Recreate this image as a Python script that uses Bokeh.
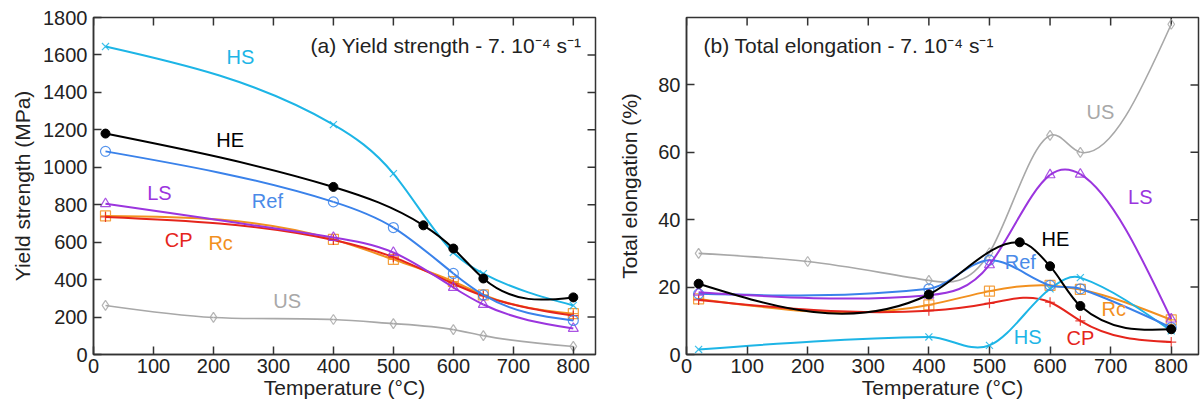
import numpy as np
from bokeh.plotting import figure
from bokeh.layouts import row
from bokeh.models import FixedTicker, Range1d
from bokeh.embed import file_html
from bokeh.resources import INLINE
from bokeh.core.properties import value

# ---------------- data: (a) yield strength (MPa) ----------------
ys_T6 = [20, 400, 500, 600, 650, 800]
ys_HE_T = [20, 400, 550, 600, 650, 800]
ys_US_T = [20, 200, 400, 500, 600, 650, 800]
ys_HS = [1645, 1228, 966, 545, 432, 262]
ys_HE = [1180, 895, 690, 566, 406, 305]
ys_Ref = [1085, 815, 678, 433, 318, 182]
ys_LS = [805, 625, 545, 358, 267, 139]
ys_CP = [735, 612, 520, 378, 313, 208]
ys_Rc = [740, 615, 508, 390, 318, 218]
ys_US = [262, 198, 187, 165, 133, 101, 43]

# ---------------- data: (b) total elongation (%) ----------------
el_T6 = [20, 400, 500, 600, 650, 800]
el_HE_T = [20, 400, 550, 600, 650, 800]
el_US_T = [20, 200, 400, 500, 600, 650, 800]
el_HS = [1.5, 5.2, 2.7, 19.5, 22.8, 7.0]
el_HE = [21.0, 17.8, 33.3, 26.2, 14.4, 7.5]
el_Ref = [18.0, 19.5, 28.0, 20.5, 19.5, 8.0]
el_LS = [18.5, 17.6, 26.6, 53.3, 53.5, 10.5]
el_CP = [16.2, 13.0, 15.2, 15.5, 10.0, 3.7]
el_Rc = [16.5, 14.7, 18.8, 20.5, 19.3, 10.3]
el_US = [30.0, 27.6, 22.0, 30.2, 65.0, 60.0, 98.0]

# curve labels
labels = ["HS", "HE", "Ref", "LS", "CP", "Rc", "US"]
ys_label_x = [245, 228, 290, 110, 142, 212, 323]
ys_label_y = [1591, 1148, 822, 860, 614, 598, 288]
el_label_x = [563, 609, 551, 749, 650, 705, 683]
el_label_y = [5.2, 34.4, 27.5, 46.8, 4.9, 13.6, 72.0]

x_ticks = [0, 100, 200, 300, 400, 500, 600, 700, 800]
ys_ticks = [0, 200, 400, 600, 800, 1000, 1200, 1400, 1600, 1800]
el_ticks = [0, 20, 40, 60, 80]

COL = {"HS": "#1db5e6", "HE": "#000000", "Ref": "#3a82ea", "LS": "#9b35de",
       "CP": "#e5251c", "Rc": "#f2901f", "US": "#a8a8a8"}
MARK = {"HS": "x", "HE": "circle", "Ref": "circle", "LS": "triangle",
        "CP": "cross", "Rc": "square_cross", "US": "diamond"}
FONT = "Liberation Sans"
FRAME = "#333333"


def natural_tangents(x, y):
    n = len(x)
    h = np.diff(x)
    A = np.zeros((n, n))
    r = np.zeros(n)
    A[0, 0] = 1
    A[-1, -1] = 1
    for i in range(1, n - 1):
        A[i, i - 1] = h[i - 1]
        A[i, i] = 2 * (h[i - 1] + h[i])
        A[i, i + 1] = h[i]
        r[i] = 6 * ((y[i + 1] - y[i]) / h[i] - (y[i] - y[i - 1]) / h[i - 1])
    M = np.linalg.solve(A, r)
    s = np.diff(y) / h
    m = np.zeros(n)
    m[:-1] = s - h * (2 * M[:-1] + M[1:]) / 6
    m[-1] = s[-1] + h[-1] * (M[-2] + 2 * M[-1]) / 6
    return m


def hermite_tangents(x, y):
    h = np.diff(x)
    s = np.diff(y) / h
    m = np.zeros(len(x))
    m[1:-1] = (y[2:] - y[:-2]) / (x[2:] - x[:-2])
    m[0] = (3 * s[0] - m[1]) / 2
    m[-1] = (3 * s[-1] - m[-2]) / 2
    return m


def curve(xs, ys, w):
    """Smooth cubic curve through the measured points, as Bezier segments.
    w blends natural-spline tangents (w=1) with Catmull-Rom tangents (w=0)."""
    x = np.asarray(xs, float)
    y = np.asarray(ys, float)
    h = np.diff(x)
    m = w * natural_tangents(x, y) + (1 - w) * hermite_tangents(x, y)
    return dict(x0=x[:-1], y0=y[:-1], x1=x[1:], y1=y[1:],
                cx0=x[:-1] + h / 3, cy0=y[:-1] + h / 3 * m[:-1],
                cx1=x[1:] - h / 3, cy1=y[1:] - h / 3 * m[1:])


def make_fig(width, height, xmax, ymax, yticks, bl, br, bt, bb, ylabel, ylab_standoff):
    p = figure(width=width, height=height, x_range=Range1d(0, xmax), y_range=Range1d(0, ymax),
               output_backend="svg", toolbar_location=None,
               min_border_left=bl, min_border_right=br, min_border_top=bt, min_border_bottom=bb,
               background_fill_color="white", border_fill_color="white")
    p.xgrid.visible = False
    p.ygrid.visible = False
    p.outline_line_color = FRAME
    p.outline_line_width = 1.5
    p.outline_line_alpha = 1.0
    p.xaxis.ticker = FixedTicker(ticks=x_ticks)
    p.yaxis.ticker = FixedTicker(ticks=yticks)
    for ax in (p.xaxis[0], p.yaxis[0]):
        ax.major_tick_in = 8
        ax.major_tick_out = 0
        ax.minor_tick_line_color = None
        ax.axis_line_color = FRAME
        ax.axis_line_width = 1.5
        ax.major_tick_line_color = FRAME
        ax.major_tick_line_width = 1.5
        ax.major_label_text_font = FONT
        ax.major_label_text_font_size = "20px"
        ax.major_label_text_color = "#222222"
        ax.axis_label_text_font = FONT
        ax.axis_label_text_font_size = "21px"
        ax.axis_label_text_font_style = "normal"
        ax.axis_label_text_color = "#222222"
    p.xaxis.axis_label = "Temperature (°C)"
    p.xaxis.major_label_standoff = 4
    p.xaxis.axis_label_standoff = 0
    p.yaxis.axis_label = ylabel
    p.yaxis.major_label_standoff = 6
    p.yaxis.axis_label_standoff = ylab_standoff
    # inward ticks on the top and right frame edges
    p.ray(x=x_ticks, y=ymax, length=8, length_units="screen", angle=-np.pi / 2,
          line_color=FRAME, line_width=1.5)
    p.ray(x=xmax, y=[t for t in yticks if 0 < t < ymax], length=8, length_units="screen",
          angle=np.pi, line_color=FRAME, line_width=1.5)
    return p


def draw(p, name, xs, ys, lw=2.0, w=1.0):
    c = COL[name]
    p.bezier(line_color=c, line_width=lw, **curve(xs, ys, w))
    if name == "HE":
        p.scatter(xs, ys, marker="circle", size=9, line_color=c, fill_color=c)
    else:
        p.scatter(xs, ys, marker=MARK[name], size=10, line_color=c, fill_color=None,
                  line_width=1.2, line_alpha=0.85)


label_colors = [COL[l] if l != "Ref" else "#4a8ae8" for l in labels]

# ---------------- panel (a) ----------------
pa = make_fig(600, 417, 837, 1800, ys_ticks, 93, 5, 17, 63, "Yield strength (MPa)", 6)
draw(pa, "US", ys_US_T, ys_US, 1.6)
draw(pa, "Rc", ys_T6, ys_Rc)
draw(pa, "CP", ys_T6, ys_CP)
draw(pa, "LS", ys_T6, ys_LS)
draw(pa, "Ref", ys_T6, ys_Ref)
draw(pa, "HS", ys_T6, ys_HS)
draw(pa, "HE", ys_HE_T, ys_HE)
pa.text(x=ys_label_x, y=ys_label_y, text=labels, text_color=label_colors,
        text_font=value(FONT), text_font_size="20px", text_align="center", text_baseline="middle")
pa.text(x=[362], y=[1650], text=["(a) Yield strength - 7. 10\u207b\u2074 s\u207b\u00b9"], text_color="#222222",
        text_font=value(FONT), text_font_size="21px", text_align="left", text_baseline="middle")

# ---------------- panel (b) ----------------
pb = make_fig(603, 417, 845, 100, el_ticks, 86, 5, 16, 55, "Total elongation (%)", 14)
draw(pb, "US", el_US_T, el_US, 1.6, w=0.8)
draw(pb, "Rc", el_T6, el_Rc)
draw(pb, "CP", el_T6, el_CP)
draw(pb, "HS", el_T6, el_HS, w=0.0)
draw(pb, "Ref", el_T6, el_Ref, w=0.0)
draw(pb, "LS", el_T6, el_LS)
draw(pb, "HE", el_HE_T, el_HE, w=0.55)
pb.text(x=el_label_x, y=el_label_y, text=labels, text_color=label_colors,
        text_font=value(FONT), text_font_size="20px", text_align="center", text_baseline="middle")
pb.text(x=[28], y=[91.6], text=["(b) Total elongation - 7. 10\u207b\u2074 s\u207b\u00b9"], text_color="#222222",
        text_font=value(FONT), text_font_size="21px", text_align="left", text_baseline="middle")

layout = row(pa, pb)
open("out.html", "w").write(file_html(layout, INLINE))
